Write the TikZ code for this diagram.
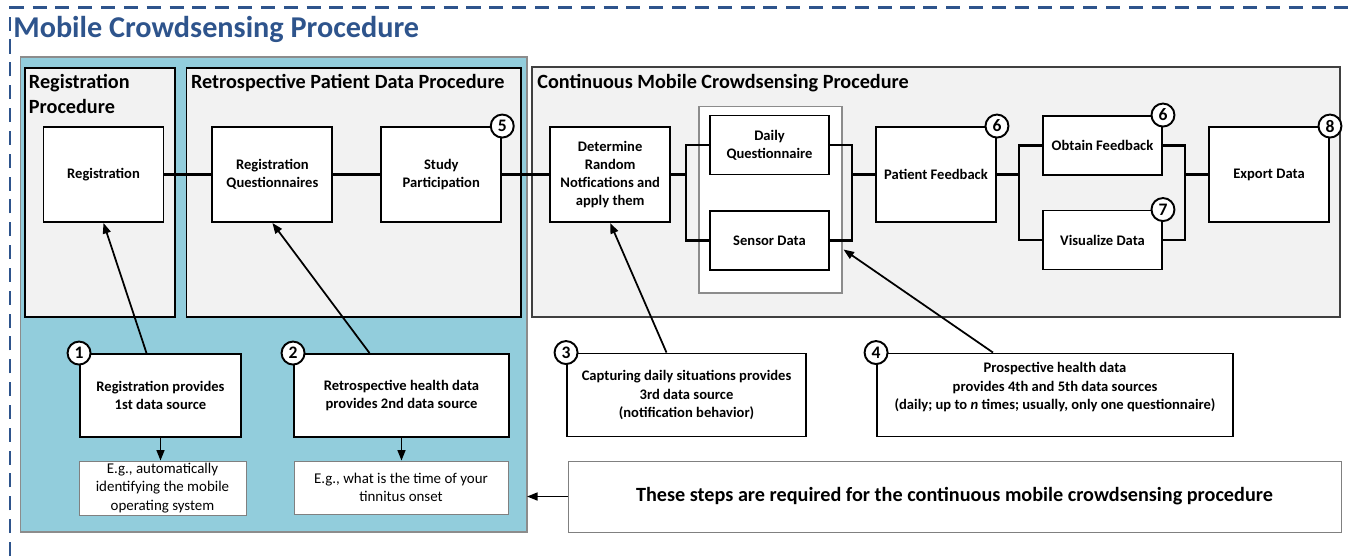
\documentclass[tikz,border=0pt]{standalone}
\usepackage{fontspec}
\setmainfont{Carlito}
\usetikzlibrary{calc,chains,positioning,arrows.meta}

\definecolor{titleblue}{RGB}{46,84,140}
\definecolor{aqua}{RGB}{146,205,220}
\definecolor{procgray}{RGB}{242,242,242}

\tikzset{
  x=0.02cm, y=-0.02cm,
  stepbox/.style={draw, line width=1.1pt, fill=white, inner sep=0pt, align=center,
    font=\fontsize{8.3}{10.4}\selectfont\bfseries},
  bigbox/.style={stepbox, minimum width=2.4cm, minimum height=1.9cm},
  smallbox/.style={stepbox, minimum width=2.38cm, minimum height=1.18cm},
  srcbox/.style={stepbox, minimum height=1.66cm},
  egbox/.style={draw=black!50, line width=0.5pt, fill=white, inner sep=0pt, align=center,
    font=\fontsize{8.5}{10.4}\selectfont},
  num/.style={circle, draw, line width=1.1pt, fill=white, inner sep=0pt,
    minimum size=0.46cm, font=\fontsize{10}{10}\selectfont\bfseries},
  head/.style={anchor=base west, inner sep=0pt, align=left,
    font=\fontsize{11.5}{14}\selectfont\bfseries},
  link/.style={line width=1.2pt},
  pointer/.style={line width=1pt, -{Triangle[length=6pt,width=4.5pt]}},
}

\begin{document}
\begin{tikzpicture}
\useasboundingbox (0,0) rectangle (1351,556);

\draw[titleblue, line width=1.5pt, dash pattern=on 8pt off 5pt] (10,556) -- (10,7.5) -- (1351,7.5);
\node[anchor=base west, inner sep=0pt, text=titleblue,
  font=\fontsize{17.2}{20}\selectfont\bfseries] (title) at (13,37) {Mobile Crowdsensing Procedure};

% procedure areas
\draw[black!45, fill=aqua, line width=0.6pt] (20.7,57) rectangle (527,532);
\coordinate (aquaSE) at (527,532);
\draw[line width=1.1pt, fill=procgray] (25,68) rectangle (175,317);
\draw[line width=1.1pt, fill=procgray] (186.5,68) rectangle (521,317);
\draw[black!75, line width=1.1pt, fill=procgray] (532,67) rectangle (1340,317);
\node[head] (hreg) at (28.6,113) {Registration\\Procedure};
\node[head] (hretro) at (190.7,88) {Retrospective Patient Data Procedure};
\node[head] (hcont) at (537,88) {Continuous Mobile Crowdsensing Procedure};

\begin{scope}[start chain=going right,node distance=0.94cm]
\node[bigbox, on chain] (reg) at (103.5,174.5) {Registration};
\def\mainrow{rq/{Registration\\Questionnaires},sp/{Study\\Participation},dr/{Determine\\Random\\Notfications and\\apply them}}
\foreach \nm / \txt in \mainrow
  \node[bigbox, on chain] (\nm) {\txt};
\end{scope}

\node[draw=black!45, fill=white, line width=0.6pt, minimum width=2.86cm, minimum height=3.74cm]
  (cont) at (770.5,199.5) {};
\node[smallbox] (dq) at (769.5,145) {Daily\\Questionnaire};
\node[smallbox] (sd) at (769.5,240.5) {Sensor Data};
\node[bigbox] (pf) at (936,174.5) {Patient Feedback};
\node[smallbox] (of) at (1102.5,145.5) {Obtain Feedback};
\node[smallbox] (vd) at (1102.5,240) {Visualize Data};
\node[bigbox] (ex) at (1269,174.5) {Export Data};

\coordinate (split1) at (686,174.5);
\coordinate (join1) at (852,174.5);
\coordinate (split2) at (1019,174.5);
\coordinate (join2) at (1185,174.5);

\draw[link] (reg) -- (rq);
\draw[link] (rq) -- (sp);
\draw[link] (sp) -- (dr);
\draw[link] (dr.east) -- (split1);
\draw[link] (dq.west) -| (split1) |- (sd.west);
\draw[link] (dq.east) -| (join1) |- (sd.east);
\draw[link] (join1) -- (pf.west);
\draw[link] (pf.east) -- (split2);
\draw[link] (of.west) -| (split2) |- (vd.west);
\draw[link] (of.east) -| (join2) |- (vd.east);
\draw[link] (join2) -- (ex.west);

\node[num] (n5) at (sp.north east) {5};
\node[num] (n6a) at (pf.north east) {6};
\node[num] (n6b) at (of.north east) {6};
\node[num] (n7) at (vd.north east) {7};
\node[num] (n8) at (ex.north east) {8};

% data sources
\node[srcbox, minimum width=3.22cm] (c1) at (160.5,395.5) {Registration provides\\1st data source};
\node[srcbox, minimum width=4.3cm] (c2) at (401.5,395.5) {Retrospective health data\\provides 2nd data source};
\node[srcbox, minimum width=4.78cm] (c3) at (686.5,395) {Capturing daily situations provides\\3rd data source\\(notification behavior)};
\node[srcbox, minimum width=7.12cm] (c4) at (1055,395) {Prospective health data\\provides 4th and 5th data sources\\(daily; up to \textit{n} times; usually, only one questionnaire)\\\mbox{}};
\node[num] (n1) at (c1.north west) {1};
\node[num] (n2) at (c2.north west) {2};
\node[num] (n3) at (c3.north west) {3};
\node[num] (n4) at (c4.north west) {4};

\node[egbox, minimum width=3.34cm, minimum height=1.08cm] (eg1) at (162.5,488) {E.g., automatically\\identifying the mobile\\operating system};
\node[egbox, minimum width=4.28cm, minimum height=1.06cm] (eg2) at (401,487.5) {E.g., what is the time of your\\tinnitus onset};

\node[egbox, minimum width=15.46cm, minimum height=1.42cm,
  font=\fontsize{11.5}{13}\selectfont\bfseries] (note) at (954.5,496.5)
  {These steps are required for the continuous mobile crowdsensing procedure};

\draw[pointer] ($(c1.north)+(-14,0)$) -- (reg.south);
\draw[pointer] ($(c2.north)+(-32,0)$) -- (rq.south);
\draw[pointer] ($(c3.north)+(-20,0)$) -- (dr.south);
\draw[pointer] ($(c4.north)+(-62,0)$) -- ($(cont.east)+(1,50)$);
\draw[pointer] (c1.south) -- (c1.south |- eg1.north);
\draw[pointer] (c2.south) -- (c2.south |- eg2.north);
\draw[pointer] (note.west) -- (note.west -| aquaSE);

\end{tikzpicture}
\end{document}
